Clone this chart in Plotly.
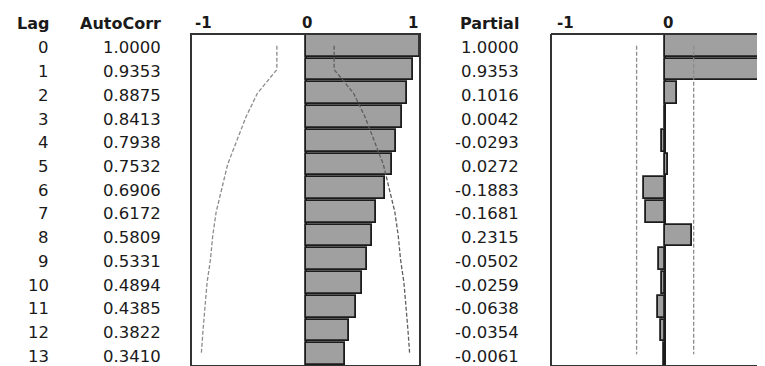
import plotly.graph_objects as go

# ---------------- data ----------------
lags = [0, 1, 2, 3, 4, 5, 6, 7, 8, 9, 10, 11, 12, 13]
autocorr = [1.0000, 0.9353, 0.8875, 0.8413, 0.7938, 0.7532, 0.6906,
            0.6172, 0.5809, 0.5331, 0.4894, 0.4385, 0.3822, 0.3410]
partial = [1.0000, 0.9353, 0.1016, 0.0042, -0.0293, 0.0272, -0.1883,
           -0.1681, 0.2315, -0.0502, -0.0259, -0.0638, -0.0354, -0.0061]
# confidence limits
acf_limit = [0.25, 0.25, 0.42, 0.52, 0.60, 0.68, 0.73,
             0.78, 0.81, 0.83, 0.86, 0.88, 0.895, 0.91]
pacf_limit = [0.25, 0.25, 0.25, 0.25, 0.25, 0.25, 0.25,
              0.25, 0.25, 0.25, 0.25, 0.25, 0.25, 0.25]
headers = ["Lag", "AutoCorr", "Partial"]
tick_vals = [-1, 0, 1]
tick_text = ["-1", "0", "1"]

W, H = 765, 366
BAR_FILL = "#a0a0a0"
BAR_LINE = "#1c1c1c"
CONF = "#8c8c8c"
TXT = "#1a1a1a"
FONT = "DejaVu Sans"

fig = go.Figure()

# ACF bars
fig.add_trace(go.Bar(x=autocorr, y=lags, orientation="h", base=0, width=0.92,
                     xaxis="x", yaxis="y",
                     marker=dict(color=BAR_FILL, line=dict(color=BAR_LINE, width=1.8)),
                     hoverinfo="skip", showlegend=False))
# ACF confidence curves
fig.add_trace(go.Scatter(x=[-v for v in acf_limit], y=lags, mode="lines",
                         xaxis="x", yaxis="y",
                         line=dict(color=CONF, width=1.3, dash="4px,2px"),
                         hoverinfo="skip", showlegend=False))
fig.add_trace(go.Scatter(x=acf_limit, y=lags, mode="lines",
                         xaxis="x", yaxis="y",
                         line=dict(color="#5e5e5e", width=1.3, dash="4px,2px"),
                         hoverinfo="skip", showlegend=False))

# PACF bars
fig.add_trace(go.Bar(x=partial, y=lags, orientation="h", base=0, width=0.92,
                     xaxis="x2", yaxis="y",
                     marker=dict(color=BAR_FILL, line=dict(color=BAR_LINE, width=1.8)),
                     hoverinfo="skip", showlegend=False))
fig.add_trace(go.Scatter(x=[-v for v in pacf_limit], y=lags, mode="lines",
                         xaxis="x2", yaxis="y",
                         line=dict(color=CONF, width=1.3, dash="4px,2px"),
                         hoverinfo="skip", showlegend=False))
fig.add_trace(go.Scatter(x=pacf_limit, y=lags, mode="lines",
                         xaxis="x2", yaxis="y",
                         line=dict(color=CONF, width=1.3, dash="4px,2px"),
                         hoverinfo="skip", showlegend=False))

ann = []
# header row
hdr_x = [43, 155, 513]
for h, xr in zip(headers, hdr_x):
    ann.append(dict(text=h, xref="paper", x=xr / W, xanchor="right",
                    yref="paper", y=1, yanchor="middle", yshift=11,
                    showarrow=False, font=dict(family=FONT, size=16, color=TXT, weight="bold")))
# row texts
for lg, a, p in zip(lags, autocorr, partial):
    for txt, xr in ((str(lg), 43), (f"{a:.4f}", 155), (f"{p:.4f}", 513)):
        ann.append(dict(text=txt, xref="paper", x=xr / W, xanchor="right",
                        yref="y", y=lg, yanchor="middle", yshift=-2,
                        showarrow=False, font=dict(family=FONT, size=16.5, color=TXT)))
# axis tick labels (JMP style: end labels kept inside the frame)
anchors = {-1: ("left", 2), 0: ("center", 1), 1: ("right", 0)}
for v, t in zip(tick_vals, tick_text):
    xa, xs = anchors[v]
    ann.append(dict(text=t, xref="x", x=v, xanchor=xa, xshift=xs,
                    yref="paper", y=1, yanchor="middle", yshift=11,
                    showarrow=False, font=dict(family=FONT, size=15, color=TXT, weight="bold")))
    if v < 1:
        ann.append(dict(text=t, xref="x2", x=v, xanchor=xa, xshift=xs + 2,
                        yref="paper", y=1, yanchor="middle", yshift=11,
                        showarrow=False, font=dict(family=FONT, size=15, color=TXT, weight="bold")))

FRAME = "#333333"
shapes = [
    dict(type="rect", xref="x domain", yref="y domain", x0=0, x1=1, y0=0, y1=1,
         line=dict(color=FRAME, width=2), layer="above"),
    dict(type="line", xref="x2 domain", yref="y domain", x0=0, x1=0, y0=0, y1=1,
         line=dict(color=FRAME, width=2), layer="above"),
    dict(type="line", xref="x2 domain", yref="y domain", x0=0, x1=1, y0=1, y1=1,
         line=dict(color=FRAME, width=2), layer="above"),
    dict(type="line", xref="x2 domain", yref="y domain", x0=0, x1=1, y0=0, y1=0,
         line=dict(color=FRAME, width=2), layer="above"),
]

axis_common = dict(showgrid=False, showticklabels=False, ticks="", showline=False,
                   zeroline=True, zerolinecolor="#1c1c1c", zerolinewidth=1.8,
                   fixedrange=True)
fig.update_layout(
    width=W, height=H,
    margin=dict(l=0, r=0, t=26, b=8),
    paper_bgcolor="white", plot_bgcolor="white",
    bargap=0, barmode="overlay",
    xaxis=dict(domain=[183 / W, 412 / W], range=[-1, 1], anchor="y", **axis_common),
    xaxis2=dict(domain=[543 / W, 1.0], range=[-1, 0.945], anchor="y", **axis_common),
    yaxis=dict(range=[13.5, -0.5], domain=[0, 1], showgrid=False, zeroline=False,
               showticklabels=False, ticks="", showline=False, fixedrange=True),
    annotations=ann, shapes=shapes,
    font=dict(family=FONT, color=TXT),
)

fig.write_html("out.html")
